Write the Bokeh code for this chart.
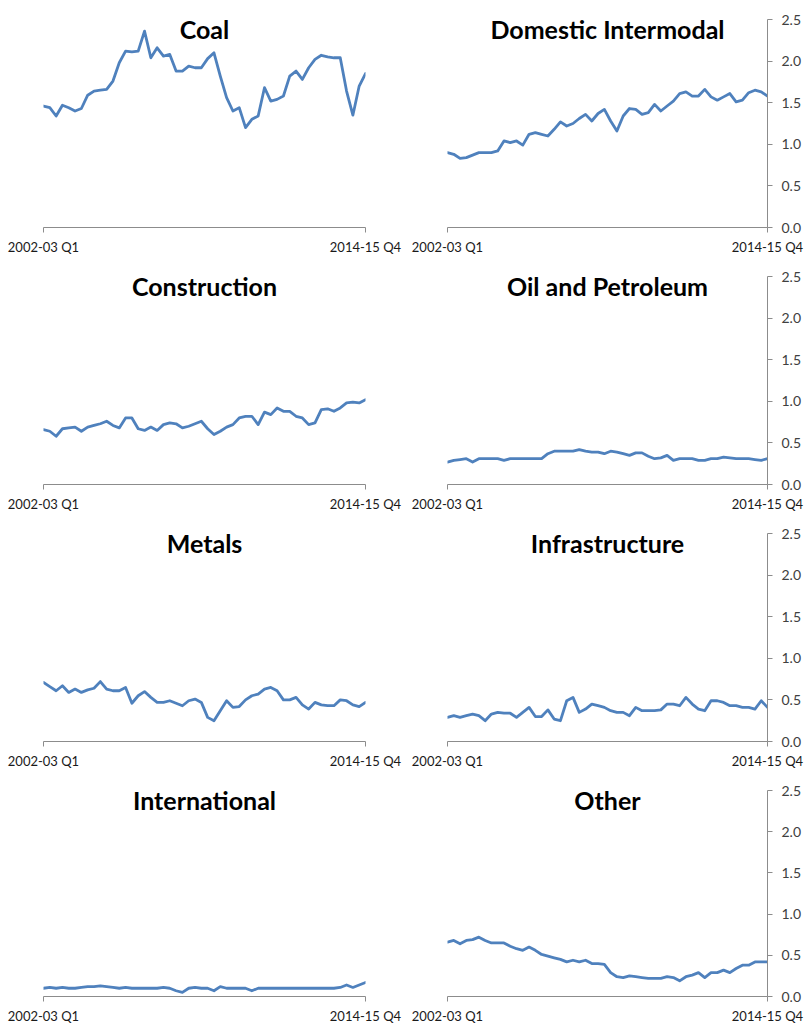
from bokeh.plotting import figure
from bokeh.layouts import column, row
from bokeh.models import Range1d, FixedTicker, Label, NumeralTickFormatter
from bokeh.embed import file_html
from bokeh.resources import INLINE

# ---------------- data ----------------
quarters = list(range(52))  # 2002-03 Q1 ... 2014-15 Q4
x_tick_labels = ["2002-03 Q1", "2014-15 Q4"]
y_ticks = [0.0, 0.5, 1.0, 1.5, 2.0, 2.5]

titles = ["Coal", "Domestic Intermodal", "Construction", "Oil and Petroleum",
          "Metals", "Infrastructure", "International", "Other"]

coal = [1.46, 1.44, 1.34, 1.47, 1.44, 1.40, 1.43, 1.59, 1.64, 1.65,
        1.66, 1.76, 1.98, 2.12, 2.11, 2.12, 2.36, 2.04, 2.16, 2.06,
        2.08, 1.88, 1.88, 1.94, 1.92, 1.92, 2.03, 2.10, 1.82, 1.56,
        1.40, 1.44, 1.20, 1.30, 1.34, 1.68, 1.52, 1.54, 1.58, 1.82,
        1.88, 1.78, 1.92, 2.02, 2.07, 2.05, 2.04, 2.04, 1.64, 1.35,
        1.70, 1.85]
domestic_intermodal = [0.90, 0.88, 0.83, 0.84, 0.87, 0.90, 0.90, 0.90, 0.92, 1.04,
                       1.02, 1.04, 0.99, 1.12, 1.14, 1.12, 1.10, 1.18, 1.27, 1.22,
                       1.25, 1.31, 1.36, 1.28, 1.37, 1.42, 1.28, 1.16, 1.34, 1.43,
                       1.42, 1.36, 1.38, 1.48, 1.40, 1.46, 1.52, 1.61, 1.63, 1.58,
                       1.58, 1.66, 1.57, 1.53, 1.57, 1.61, 1.51, 1.53, 1.62, 1.65,
                       1.63, 1.58]
construction = [0.66, 0.64, 0.58, 0.67, 0.68, 0.69, 0.64, 0.69, 0.71, 0.73,
                0.76, 0.71, 0.68, 0.80, 0.80, 0.67, 0.65, 0.69, 0.65, 0.72,
                0.74, 0.73, 0.68, 0.70, 0.73, 0.76, 0.67, 0.60, 0.64, 0.69,
                0.72, 0.80, 0.82, 0.82, 0.72, 0.87, 0.84, 0.92, 0.88, 0.88,
                0.82, 0.80, 0.72, 0.74, 0.90, 0.91, 0.88, 0.92, 0.98, 0.99,
                0.98, 1.02]
oil_and_petroleum = [0.27, 0.29, 0.30, 0.31, 0.27, 0.31, 0.31, 0.31, 0.31, 0.29,
                     0.31, 0.31, 0.31, 0.31, 0.31, 0.31, 0.37, 0.40, 0.40, 0.40,
                     0.40, 0.42, 0.40, 0.39, 0.39, 0.37, 0.40, 0.39, 0.37, 0.35,
                     0.38, 0.38, 0.34, 0.31, 0.32, 0.35, 0.29, 0.31, 0.31, 0.31,
                     0.29, 0.29, 0.31, 0.31, 0.33, 0.32, 0.31, 0.31, 0.31, 0.30,
                     0.29, 0.31]
metals = [0.71, 0.66, 0.61, 0.67, 0.59, 0.63, 0.59, 0.62, 0.64, 0.72,
          0.63, 0.61, 0.61, 0.65, 0.46, 0.55, 0.60, 0.53, 0.47, 0.47,
          0.49, 0.46, 0.43, 0.49, 0.51, 0.47, 0.29, 0.25, 0.37, 0.49,
          0.41, 0.42, 0.50, 0.55, 0.57, 0.63, 0.65, 0.61, 0.50, 0.50,
          0.53, 0.44, 0.39, 0.47, 0.44, 0.43, 0.43, 0.50, 0.49, 0.44,
          0.42, 0.47]
infrastructure = [0.29, 0.31, 0.29, 0.31, 0.33, 0.31, 0.25, 0.33, 0.35, 0.34,
                  0.34, 0.29, 0.35, 0.41, 0.30, 0.30, 0.38, 0.27, 0.25, 0.49,
                  0.53, 0.35, 0.39, 0.45, 0.43, 0.41, 0.37, 0.35, 0.35, 0.31,
                  0.41, 0.37, 0.37, 0.37, 0.38, 0.45, 0.45, 0.43, 0.53, 0.45,
                  0.39, 0.37, 0.49, 0.49, 0.47, 0.43, 0.43, 0.41, 0.41, 0.39,
                  0.49, 0.41]
international = [0.10, 0.11, 0.10, 0.11, 0.10, 0.10, 0.11, 0.12, 0.12, 0.13,
                 0.12, 0.11, 0.10, 0.11, 0.10, 0.10, 0.10, 0.10, 0.10, 0.11,
                 0.10, 0.07, 0.05, 0.10, 0.11, 0.10, 0.10, 0.07, 0.12, 0.10,
                 0.10, 0.10, 0.10, 0.07, 0.10, 0.10, 0.10, 0.10, 0.10, 0.10,
                 0.10, 0.10, 0.10, 0.10, 0.10, 0.10, 0.10, 0.11, 0.14, 0.11,
                 0.14, 0.17]
other = [0.66, 0.68, 0.64, 0.68, 0.69, 0.72, 0.68, 0.65, 0.65, 0.65,
         0.61, 0.58, 0.56, 0.60, 0.56, 0.51, 0.49, 0.47, 0.45, 0.42,
         0.44, 0.42, 0.44, 0.40, 0.40, 0.39, 0.29, 0.24, 0.23, 0.25,
         0.24, 0.23, 0.22, 0.22, 0.22, 0.24, 0.23, 0.19, 0.24, 0.26,
         0.29, 0.23, 0.29, 0.29, 0.32, 0.29, 0.34, 0.38, 0.38, 0.42,
         0.42, 0.42]

series = [coal, domestic_intermodal, construction, oil_and_petroleum,
          metals, infrastructure, international, other]

# ---------------- styling ----------------
LINE_COLOR = "#4F81BD"
AXIS_COLOR = "#8C8C8C"
TEXT_COLOR = "#1a1a1a"
FONT = "Lato"
FRAME_H = 209
Y_MAX = y_ticks[-1]


def make_panel(title, values, right_axis, top, bottom):
    if right_axis:
        width, b_left, b_right = 404, 43, 41
    else:
        width, b_left, b_right = 404, 43, 39
    p = figure(width=width, height=top + FRAME_H + bottom,
               x_range=Range1d(quarters[0], quarters[-1]),
               y_range=Range1d(y_ticks[0], Y_MAX),
               output_backend="svg", toolbar_location=None,
               y_axis_location="right" if right_axis else None,
               min_border_left=b_left, min_border_right=b_right,
               min_border_top=top, min_border_bottom=bottom,
               background_fill_color="white", border_fill_color="white")
    p.outline_line_color = None
    p.xgrid.visible = False
    p.ygrid.visible = False

    p.line(quarters, values, line_color=LINE_COLOR, line_width=2.8,
           line_join="round", line_cap="round")

    xa = p.xaxis[0]
    xa.ticker = FixedTicker(ticks=[quarters[0], quarters[-1]], minor_ticks=[])
    xa.major_label_overrides = {quarters[0]: x_tick_labels[0],
                                quarters[-1]: x_tick_labels[1]}
    xa.axis_line_color = AXIS_COLOR
    xa.major_tick_line_color = AXIS_COLOR
    xa.major_tick_out = 5
    xa.major_tick_in = 0
    xa.minor_tick_out = 0
    xa.minor_tick_in = 0
    xa.major_label_standoff = 6
    xa.major_label_text_font = FONT
    xa.major_label_text_font_size = "13px"
    xa.major_label_text_color = TEXT_COLOR

    if right_axis:
        ya = p.yaxis[0]
        ya.ticker = FixedTicker(ticks=y_ticks, minor_ticks=[])
        ya.formatter = NumeralTickFormatter(format="0.0")
        ya.axis_line_color = AXIS_COLOR
        ya.major_tick_line_color = AXIS_COLOR
        ya.major_tick_out = 5
        ya.major_tick_in = 0
        ya.minor_tick_out = 0
        ya.minor_tick_in = 0
        ya.major_label_standoff = 9
        ya.major_label_text_font = FONT
        ya.major_label_text_font_size = "14px"
        ya.major_label_text_color = "#404040"

    title_y = Y_MAX - 10 * Y_MAX / FRAME_H
    p.add_layout(Label(x=(quarters[0] + quarters[-1]) / 2, y=title_y,
                       text=title, text_align="center",
                       text_baseline="alphabetic", text_font=FONT,
                       text_font_style="bold", text_font_size="25px",
                       text_color="black"))
    return p


rows = []
for r in range(4):
    bottom = 29 if r < 3 else 27
    left = make_panel(titles[2 * r], series[2 * r], False, 19, bottom)
    right = make_panel(titles[2 * r + 1], series[2 * r + 1], True, 19, bottom)
    rows.append(row(left, right, spacing=0))

layout = column(*rows, spacing=0)

open("out.html", "w").write(file_html(layout, INLINE))
